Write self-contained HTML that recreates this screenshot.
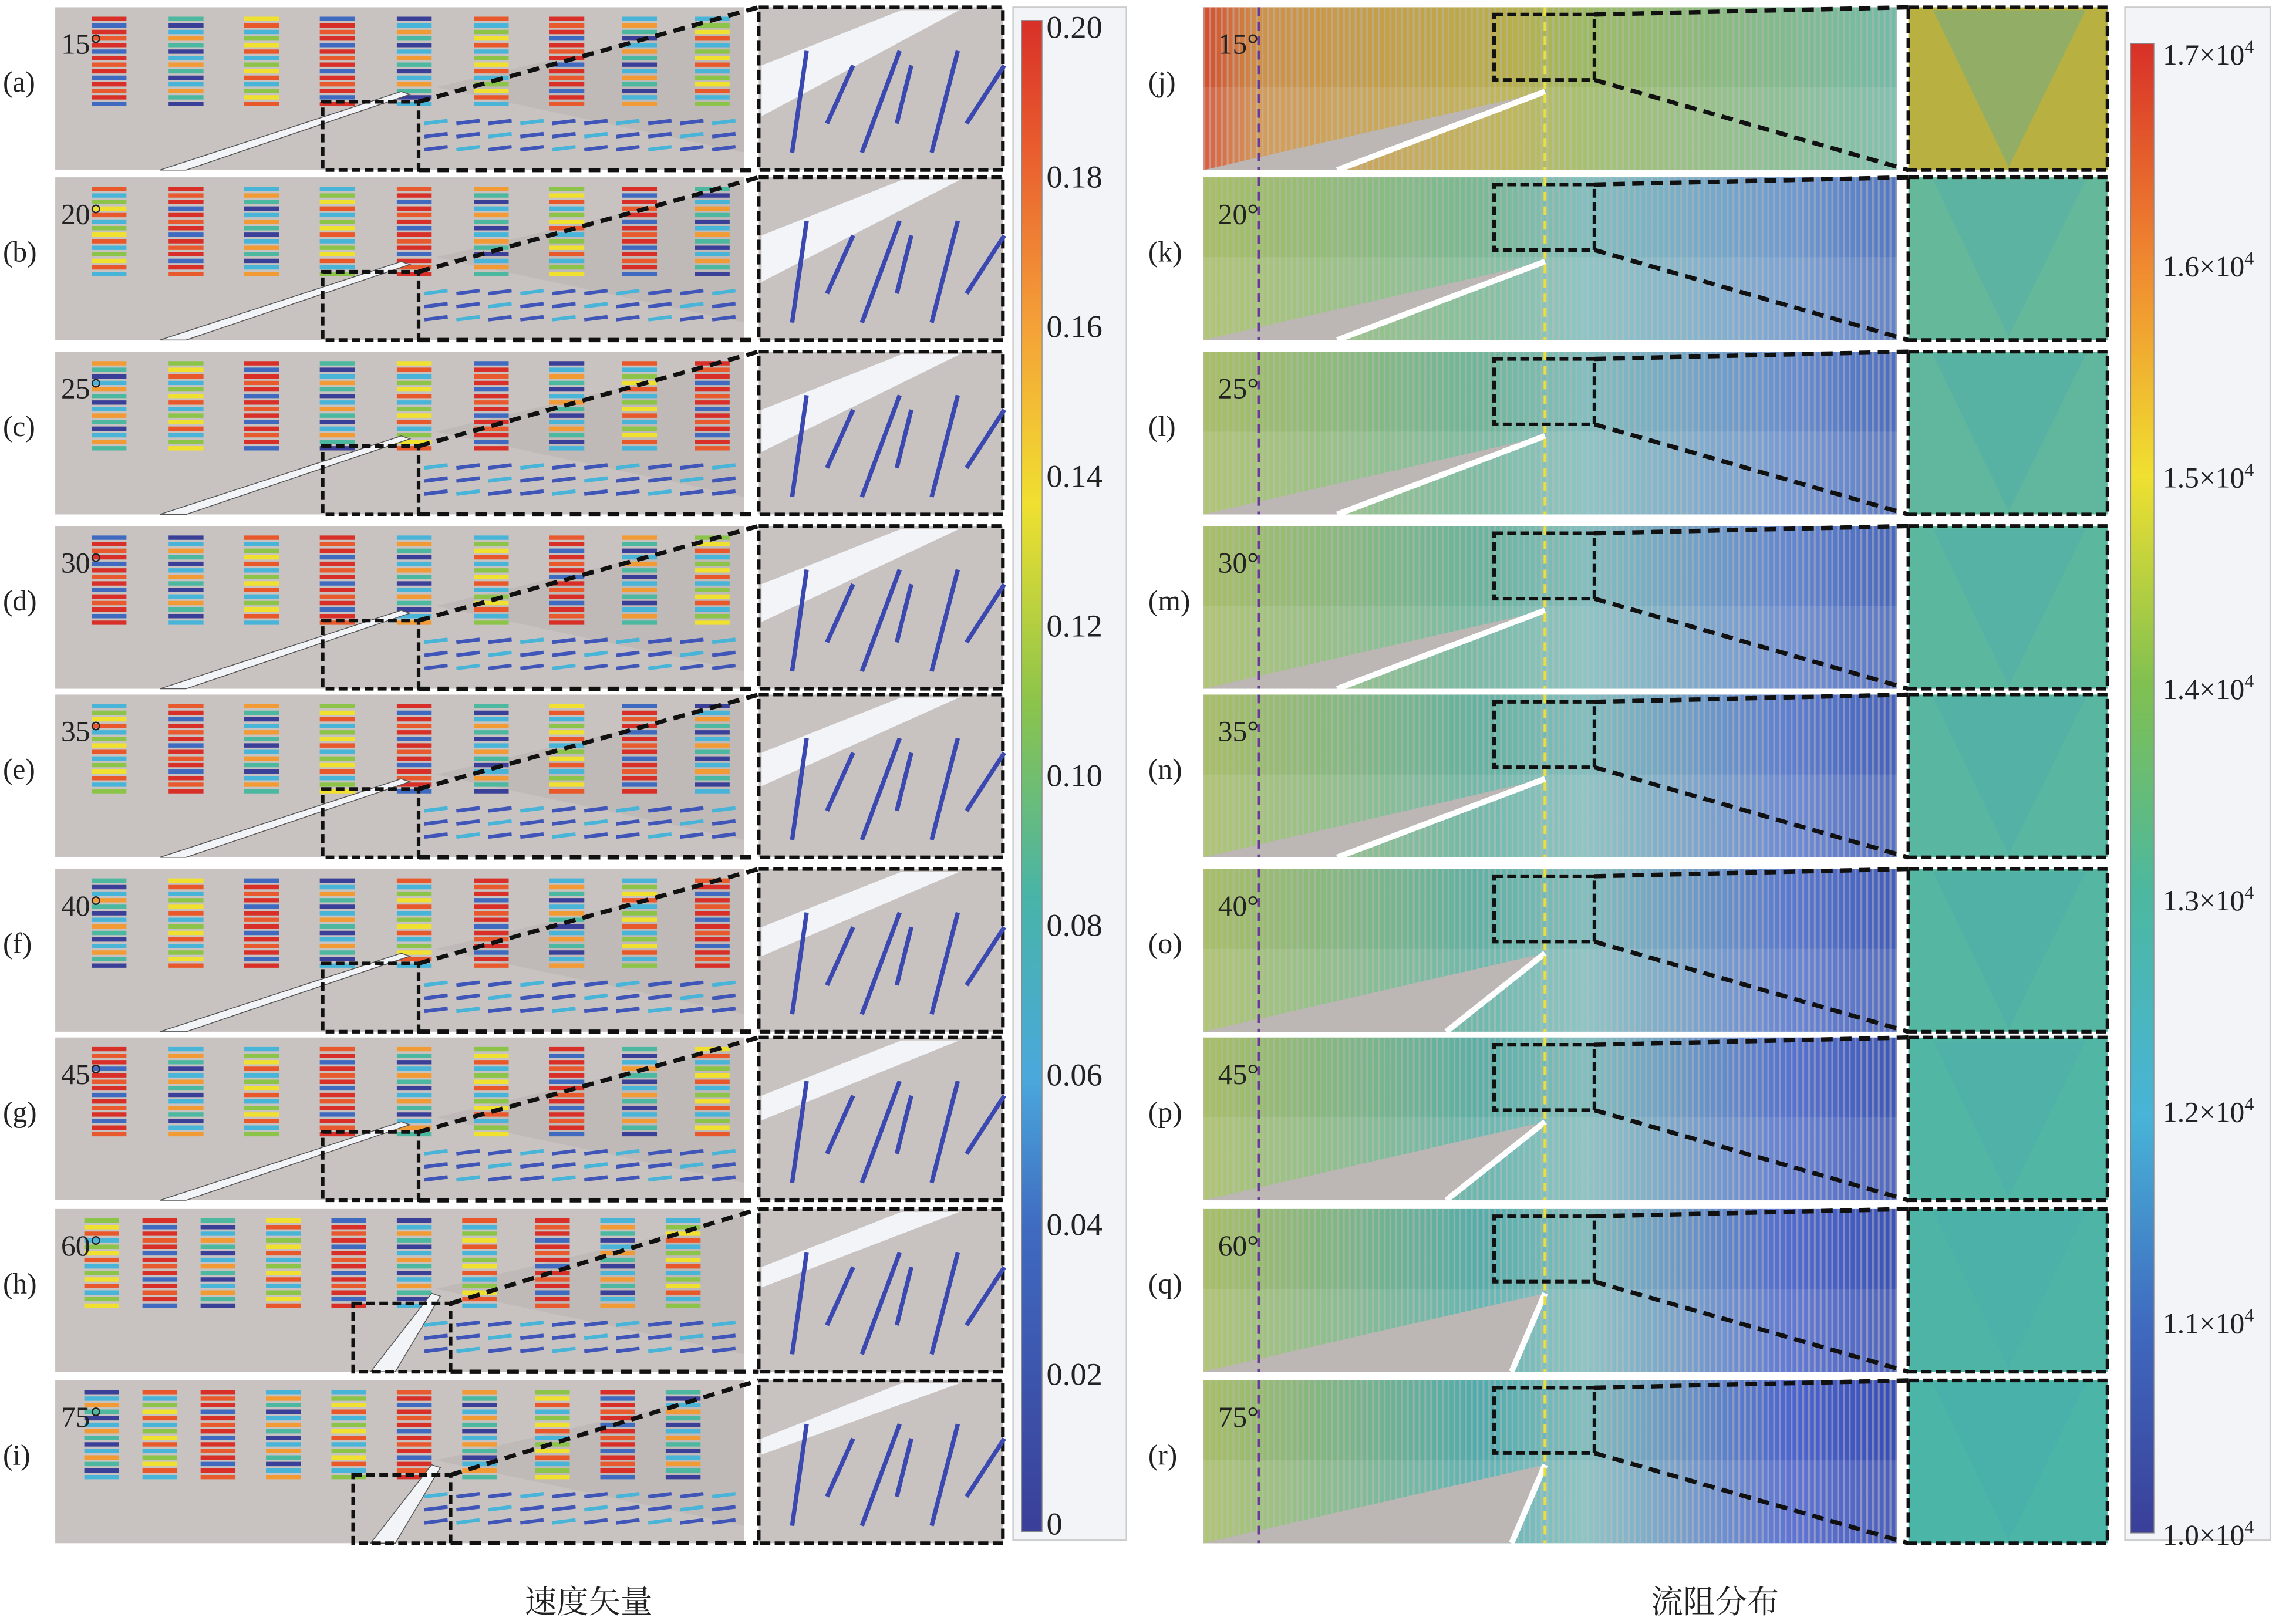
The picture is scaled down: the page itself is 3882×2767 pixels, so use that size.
<!DOCTYPE html>
<html><head><meta charset="utf-8"><style>
html,body{margin:0;padding:0;background:#fff}
svg{display:block}
text{font-family:"Liberation Serif","Noto Serif CJK SC",serif}
</style></head><body>
<svg id="fig" width="3882" height="2767" viewBox="0 0 1568 1117.6" xmlns="http://www.w3.org/2000/svg">
<defs>
<linearGradient id="cbL" x1="0" y1="1" x2="0" y2="0">
<stop offset="0" stop-color="#3a3f98"/><stop offset="0.2" stop-color="#3f6ac0"/><stop offset="0.3" stop-color="#4aa8dc"/><stop offset="0.42" stop-color="#48b4a8"/><stop offset="0.55" stop-color="#8cc44a"/><stop offset="0.68" stop-color="#f0e030"/><stop offset="0.8" stop-color="#f4a038"/><stop offset="0.92" stop-color="#e85a2e"/><stop offset="1" stop-color="#d83028"/></linearGradient>
<linearGradient id="cbR" x1="0" y1="1" x2="0" y2="0">
<stop offset="0" stop-color="#3a3f98"/><stop offset="0.14" stop-color="#3f6ac0"/><stop offset="0.28" stop-color="#48b4d8"/><stop offset="0.43" stop-color="#4cb8a0"/><stop offset="0.57" stop-color="#80c050"/><stop offset="0.71" stop-color="#f0e030"/><stop offset="0.85" stop-color="#f08a30"/><stop offset="1" stop-color="#d83028"/></linearGradient>
<pattern id="stripes" width="4" height="6" patternUnits="userSpaceOnUse"><rect x="0" y="0" width="1.3" height="6" fill="#b8b4b2" opacity="0.55"/></pattern>
</defs>
<g id="root"></g>
</svg>
<script>
const NS='http://www.w3.org/2000/svg';
const root=document.getElementById('root');
const anglesL=['15°','20°','25°','30°','35°','40°','45°','60°','75°'];
const lettersL=['(a)','(b)','(c)','(d)','(e)','(f)','(g)','(h)','(i)'];
const lettersR=['(j)','(k)','(l)','(m)','(n)','(o)','(p)','(q)','(r)'];
const ticksL=['0','0.02','0.04','0.06','0.08','0.10','0.12','0.14','0.16','0.18','0.20'];
const ticksR=['1.0','1.1','1.2','1.3','1.4','1.5','1.6','1.7'];
const rowTops=[5,122,242,362,478,598,714,832,950];
const blueness=[0.05,0.2,0.35,0.45,0.55,0.62,0.7,0.8,0.88];
function el(tag,attrs,name,parent){const e=document.createElementNS(NS,tag);for(const k in attrs)e.setAttribute(k,attrs[k]);


(parent||root).appendChild(e);return e;}
function txt(x,y,s,size,name,anchor){const t=el('text',{x:x,y:y,'font-size':size,fill:'#222','text-anchor':anchor||'start'},name);t.textContent=s;return t;}
const arrowCols=['#d83028','#e8582a','#f29a34','#3f6ac0','#48b4d8','#4cb8a0','#d83028','#8cc44a','#3a3f98','#e85a2e','#f0e030','#48b4d8'];
const H=112;
rowTops.forEach((top,r)=>{
 el('rect',{x:38,y:top,width:474,height:H,fill:'#c8c3c1'},'vector-panel-'+r);
 el('polygon',{points:`${300},${top+55} 512,${top+5} 512,${top+100}`,fill:'#b9b3b1',opacity:0.6},'shadow-region');
 const g=el('g',{},'arrow-field-'+r);
 const xs=r>=7?[70,110,150,195,240,285,330,380,425,470]:[75,128,180,232,285,338,390,440,490];
 xs.forEach((x0,c)=>{for(let k=0;k<14;k++){const y=top+8+k*4.5;const col=arrowCols[(k*3+c*5+r)%arrowCols.length];
  const len=24;el('line',{x1:x0-len/2,y1:y,x2:x0+len/2,y2:y,stroke:col,'stroke-width':3},'arrow',g);}});
 for(let c=0;c<10;c++){for(let k=0;k<3;k++){const x=300+c*22;const y=top+80+k*9;if(x>505)continue;
  el('line',{x1:x-8,y1:y,x2:x+8,y2:y-2,stroke:(c+k)%3?'#3f55b8':'#48b4d8','stroke-width':2.5},'arrow-low',g);}}
 const sx=r>=7?243:222, ex=r>=7?310:288;
 el('polygon',{points:`${r>=7?255:110},${top+H} ${r>=7?272:128},${top+H} ${sx+60},${top+60} ${sx+54},${top+58}`,fill:'#f2f4f8',stroke:'#555','stroke-width':0.6},'wall-plate');
 el('rect',{x:sx,y:top+65,width:ex-sx,height:H-65,fill:'none',stroke:'#111','stroke-width':2.5,'stroke-dasharray':'6 3'},'zoom-source-box');
 el('line',{x1:ex,y1:top+65,x2:522,y2:top,stroke:'#111','stroke-width':3,'stroke-dasharray':'8 5'},'zoom-connector');
 el('line',{x1:ex,y1:top+H,x2:522,y2:top+H,stroke:'#111','stroke-width':3,'stroke-dasharray':'8 5'},'zoom-connector');
 el('rect',{x:522,y:top,width:168,height:H,fill:'#c8c3c1',stroke:'#111','stroke-width':2.5,'stroke-dasharray':'7 3'},'zoom-panel-'+r);
 el('polygon',{points:`524,${top+40} 620,${top+2} 660,${top+2} 524,${top+75-r*3}`,fill:'#f2f4f8'},'zoom-wall');
 for(let k=0;k<6;k++){const x=545+k*24;el('line',{x1:x,y1:top+100-(k%2)*20,x2:x+10+(k%3)*8,y2:top+30+(k%2)*10,stroke:'#3a48b0','stroke-width':3},'zoom-arrow');}
 txt(42,top+32,anglesL[r],20,'angle-label');
 txt(2,top+58,lettersL[r],20,'panel-label');

 const b=blueness[r];
 const gid='rg'+r;
 const lg=el('linearGradient',{id:gid,x1:0,y1:0,x2:1,y2:0},'gradient',document.querySelector('defs'));
 const stops=r===0?[[0,'#d84a2a'],[0.08,'#d09048'],[0.45,'#b8b048'],[0.55,'#9cbc60'],[1,'#70bca8']]:
  [[0,'#a8c060'],[0.4,`rgb(${Math.round(130-60*b)},${Math.round(190-20*b)},${Math.round(140+40*b)})`],[0.55,'#80c0c0'],[0.85,`rgb(${Math.round(120-50*b)},${Math.round(170-80*b)},${Math.round(210)})`],[1,`rgb(${Math.round(90-40*b)},${Math.round(130-60*b)},${Math.round(200-20*b)})`]];
 stops.forEach(s=>el('stop',{offset:s[0],'stop-color':s[1]},'gradient-stop',lg));
 el('rect',{x:828,y:top,width:477,height:H,fill:`url(#${gid})`},'resistance-panel-'+(r));
 el('rect',{x:828,y:top,width:477,height:H,fill:'url(#stripes)'},'contour-lines');
 el('rect',{x:828,y:top+55,width:477,height:57,fill:'#fff',opacity:0.1},'lower-shade');
 const wx=r>=7?1040:(r>=5?995:920);
 el('polygon',{points:`828,${top+H} ${wx},${top+H} 1063,${top+58}`,fill:'#bcb6b4'},'solid-region');
 el('line',{x1:wx,y1:top+H,x2:1063,y2:top+58,stroke:'#fff','stroke-width':4},'wall-plate');
 el('line',{x1:1063,y1:top,x2:1063,y2:top+H,stroke:'#e6e040','stroke-width':2,'stroke-dasharray':'6 4'},'center-line');
 el('line',{x1:866,y1:top,x2:866,y2:top+H,stroke:'#6a3a98','stroke-width':2,'stroke-dasharray':'6 4'},'inlet-line');
 el('rect',{x:1028,y:top+5,width:69,height:45,fill:'none',stroke:'#111','stroke-width':2.5,'stroke-dasharray':'6 3'},'zoom-source-box');
 el('line',{x1:1097,y1:top+5,x2:1313,y2:top,stroke:'#111','stroke-width':3,'stroke-dasharray':'8 5'},'zoom-connector');
 el('line',{x1:1097,y1:top+50,x2:1313,y2:top+H,stroke:'#111','stroke-width':3,'stroke-dasharray':'8 5'},'zoom-connector');
 el('rect',{x:1313,y:top,width:137,height:H,fill:r===0?'#b8b040':`rgb(${Math.round(110-40*b)},${Math.round(185-5*b)},${Math.round(150+20*b)})`,stroke:'#111','stroke-width':2.5,'stroke-dasharray':'7 3'},'zoom-panel-right-'+r);
 el('polygon',{points:`1330,${top+2} 1435,${top+2} 1382,${top+H-2}`,fill:'#4aa8b0',opacity:0.35},'zoom-fan');
 txt(838,top+32,anglesL[r],20,'angle-label');
 txt(790,top+58,lettersR[r],20,'panel-label');
});
el('rect',{x:697,y:5,width:78,height:1055,fill:'#f3f4f8',stroke:'#ccc'},'colorbar-box');
el('rect',{x:703,y:14,width:14,height:1040,fill:'url(#cbL)',stroke:'#888','stroke-width':0.5},'colorbar-left');
ticksL.forEach((t,i)=>{const y=1048-i*103;txt(720,y+8,t,22,'colorbar-tick-label');});
el('rect',{x:1462,y:5,width:100,height:1055,fill:'#f3f4f8',stroke:'#ccc'},'colorbar-box');
el('rect',{x:1466,y:30,width:16,height:1025,fill:'url(#cbR)',stroke:'#888','stroke-width':0.5},'colorbar-right');
ticksR.forEach((t,i)=>{const y=1055-i*145.5;const tx=txt(1488,y+8,t+'×10',20,'colorbar-tick-label');
 const s=document.createElementNS(NS,'tspan');s.setAttribute('dy','-8');s.setAttribute('font-size','13');s.textContent='4';tx.appendChild(s);});
txt(405,1110,'速度矢量',22,'left-caption','middle');
txt(1180,1110,'流阻分布',22,'right-caption','middle');
</script>
</body></html>
